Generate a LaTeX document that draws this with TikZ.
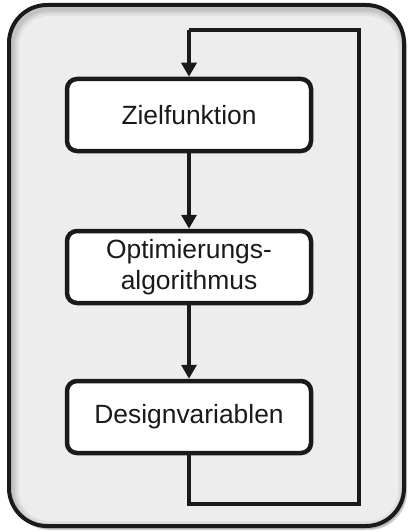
\documentclass[tikz,border=0pt]{standalone}
\usepackage{fontspec}
\setmainfont{Liberation Sans}
\usetikzlibrary{arrows.meta,shadows}
\definecolor{ink}{HTML}{1A1A1A}
\definecolor{panel}{HTML}{EDEDED}
\begin{document}
\begin{tikzpicture}[x=1pt,y=-1pt,
  stepbox/.style={draw=ink, line width=4.5pt, fill=white, rounded corners=10pt,
    minimum width=244pt, minimum height=72pt, align=center, text=ink,
    font=\fontsize{26.4}{31.5}\selectfont, inner sep=0pt},
  flow/.style={draw=ink, line width=4.5pt,
    -{Triangle[length=14pt,width=15pt]}},
  loop/.style={draw=ink, line width=4.5pt}]
  \useasboundingbox (0,0) rectangle (410,532);

  % outer panel with a soft drop shadow
  \path[fill=black, opacity=0.18, rounded corners=38pt]
    (12,9) rectangle (407,530);
  \path[fill=black, opacity=0.12, rounded corners=38pt]
    (11,7) rectangle (406,529);
  \path[fill=panel, rounded corners=38pt] (9,5) rectangle (404,526);
  % faint inner shading along the upper left edge
  \begin{scope}
    \clip[rounded corners=38pt] (9,5) rectangle (404,526);
    \foreach \w/\o in {16/0.05,11/0.06,7/0.07} {
      \draw[black, opacity=\o, line width=\w pt, rounded corners=38pt]
        (11,8) rectangle (406,529);
    }
  \end{scope}
  \draw[ink, line width=4pt, rounded corners=38pt] (9,5) rectangle (404,526);

  % process steps
  \node[stepbox] (ziel) at (189,115) {Zielfunktion};
  \node[stepbox] (opt)  at (189,267) {Optimierungs-\\algorithmus};
  \node[stepbox] (des)  at (189,417) {Designvariablen};

  % feedback loop corners
  \coordinate (lb) at (189,504);
  \coordinate (rb) at (359,504);
  \coordinate (rt) at (359,30);
  \coordinate (lt) at (189,30);

  \draw[flow] (ziel) -- (opt);
  \draw[flow] (opt) -- (des);
  \draw[loop, line join=miter] (des.south) -- (lb) -- (rb) -- (rt) -- (lt);
  \draw[flow] (lt) -- (ziel.north);
\end{tikzpicture}
\end{document}
